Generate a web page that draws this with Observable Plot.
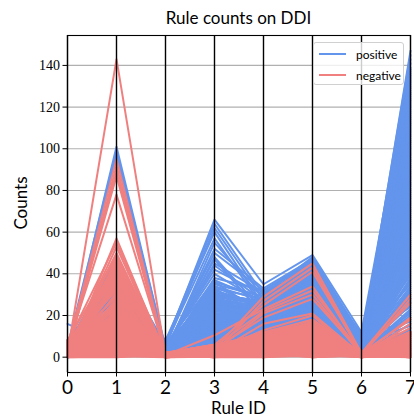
<!DOCTYPE html>
<html>
<head>
<meta charset="utf-8">
<script src="https://cdn.jsdelivr.net/npm/d3@7"></script>
<script src="https://cdn.jsdelivr.net/npm/@observablehq/plot@0.6"></script>
<style>
  body { margin: 0; background: #fff; }
  #wrap { position: relative; width: 414px; height: 418px; overflow: hidden; background: #fff; }
  #wrap svg { position: absolute; left: 0; top: 0; overflow: visible; }
  .lbl { position: absolute; font-family: Lato, sans-serif; color: #000; white-space: nowrap; }
  #legend { position: absolute; left: 313px; top: 42px; width: 91px; height: 43px; box-sizing: border-box;
    border: 1px solid #d0d0d0; border-radius: 3px; background: rgba(255,255,255,0.8);
    font-family: Lato, sans-serif; font-size: 12px; }
  .lg-row { position: absolute; left: 5px; height: 14px; display: flex; align-items: center; }
  .lg-line { width: 27px; height: 0; border-top: 2px solid; margin-right: 10px; }
</style>
</head>
<body>
<div id="wrap"></div>
<script>
// Rule IDs (x axis) and y tick values
const ruleIds = [0, 1, 2, 3, 4, 5, 6, 7];
const yTicks = [0, 20, 40, 60, 80, 100, 120, 140];
const seriesNames = ["positive", "negative"];

// Each row: counts for rules 0..7 (positive = blue lines)
const positiveCounts = [
  [3, 101, 4, 20, 18, 30, 5, 147],
  [5, 99, 3, 12, 22, 36, 7, 145],
  [2, 97, 5, 26, 15, 28, 4, 141],
  [6, 47, 6, 66, 35, 49, 12, 138],
  [4, 40, 7, 64, 30, 48, 10, 134],
  [1, 38, 5, 62, 28, 47, 9, 130],
  [8, 36, 8, 60, 25, 44, 11, 126],
  [16, 5, 6, 57, 24, 42, 8, 122],
  [7, 9, 3, 48, 22, 40, 6, 118],
  [3, 14, 4, 47, 20, 38, 3, 114],
  [0, 20, 2, 38, 32, 46, 10, 110],
  [5, 25, 6, 37, 27, 43, 7, 106],
  [2, 30, 3, 36, 21, 36, 5, 102],
  [4, 33, 4, 33, 19, 33, 4, 98],
  [6, 28, 5, 30, 17, 31, 8, 94],
  [1, 18, 2, 29, 16, 30, 3, 90],
  [3, 22, 7, 26, 23, 35, 9, 86],
  [5, 12, 3, 23, 14, 27, 6, 82],
  [2, 16, 4, 22, 26, 41, 11, 78],
  [7, 8, 6, 20, 18, 29, 5, 75],
  [0, 26, 2, 18, 13, 25, 2, 72],
  [4, 11, 5, 17, 20, 34, 7, 69],
  [3, 6, 3, 16, 12, 22, 4, 66],
  [6, 19, 4, 13, 15, 24, 8, 63],
  [1, 24, 2, 12, 11, 21, 3, 60],
  [5, 31, 6, 11, 24, 37, 10, 57],
  [2, 15, 3, 10, 17, 26, 6, 54],
  [8, 10, 5, 9, 21, 32, 5, 51],
  [4, 35, 4, 8, 14, 23, 4, 48],
  [0, 7, 2, 7, 10, 19, 3, 45],
  [3, 21, 3, 6, 19, 28, 7, 42],
  [6, 17, 5, 14, 16, 33, 9, 39],
  [2, 27, 4, 19, 22, 39, 6, 36],
  [5, 13, 3, 24, 13, 20, 2, 33],
  [1, 23, 2, 28, 18, 31, 5, 30],
  [7, 29, 6, 32, 25, 45, 8, 27],
  [4, 32, 4, 35, 29, 42, 10, 24],
  [3, 4, 3, 21, 12, 17, 4, 21],
  [0, 9, 2, 15, 11, 15, 3, 18],
  [6, 39, 5, 40, 26, 40, 7, 15],
  [2, 42, 4, 45, 31, 46, 9, 12],
  [5, 44, 3, 52, 33, 47, 6, 9],
  [1, 34, 2, 55, 28, 44, 5, 6],
  [3, 37, 5, 27, 20, 35, 4, 3],
  [4, 41, 4, 34, 23, 38, 8, 0],
  [5, 23, 4, 31, 19, 34, 6, 112],
  [3, 17, 3, 9, 15, 25, 4, 100],
  [6, 28, 5, 14, 21, 36, 7, 88],
  [1, 8, 2, 20, 13, 22, 3, 80],
  [4, 15, 6, 11, 17, 29, 8, 70],
  [2, 30, 4, 16, 22, 37, 5, 61],
  [7, 19, 3, 23, 18, 30, 6, 53],
  [3, 25, 5, 8, 12, 19, 2, 44],
  [5, 33, 4, 18, 24, 39, 9, 35],
  [0, 11, 2, 12, 14, 23, 4, 26],
  [4, 36, 6, 30, 27, 41, 11, 17],
  [2, 21, 3, 7, 15, 26, 5, 8],
  [6, 14, 5, 10, 19, 31, 7, 4],
  [2, 6, 2, 5, 11, 16, 2, 143],
  [4, 12, 3, 9, 14, 20, 1, 139],
  [1, 3, 2, 4, 12, 18, 3, 136],
  [5, 9, 4, 12, 16, 22, 2, 132],
  [3, 15, 2, 8, 13, 19, 1, 128],
  [0, 4, 3, 15, 18, 25, 3, 124],
  [6, 10, 5, 18, 20, 28, 2, 120],
  [2, 7, 2, 6, 12, 17, 1, 116],
  [4, 13, 4, 22, 21, 32, 3, 108],
  [1, 5, 3, 10, 15, 24, 2, 104],
  [3, 16, 2, 25, 23, 34, 1, 96],
  [5, 2, 4, 14, 17, 26, 3, 92],
  [0, 8, 3, 28, 24, 38, 2, 84],
  [7, 11, 5, 17, 19, 29, 1, 77],
  [2, 14, 2, 21, 22, 33, 3, 73],
  [4, 3, 3, 7, 13, 21, 2, 67],
  [1, 9, 4, 31, 26, 40, 1, 64],
  [6, 6, 2, 13, 16, 23, 3, 58],
  [3, 12, 3, 19, 20, 31, 2, 55],
  [5, 4, 5, 24, 22, 35, 1, 49],
  [0, 10, 2, 11, 14, 21, 3, 46],
  [2, 7, 3, 16, 18, 27, 2, 40],
  [4, 13, 4, 27, 25, 37, 1, 37],
  [1, 5, 2, 9, 12, 18, 3, 31],
  [6, 2, 3, 20, 19, 30, 2, 28],
  [3, 8, 4, 13, 15, 22, 1, 22],
  [5, 11, 2, 26, 23, 36, 3, 19],
  [0, 6, 3, 6, 11, 16, 2, 13],
  [2, 14, 5, 18, 17, 28, 1, 10],
  [4, 3, 2, 10, 13, 20, 3, 5],
  [1, 9, 3, 23, 21, 33, 2, 1],
  [3, 7, 4, 8, 14, 24, 1, 127],
  [5, 12, 2, 15, 18, 29, 2, 115],
  [0, 4, 3, 29, 27, 42, 3, 103],
  [2, 10, 5, 12, 16, 25, 1, 91],
  [6, 15, 2, 20, 21, 34, 2, 79],
  [4, 6, 3, 33, 28, 43, 3, 65],
  [1, 11, 4, 9, 13, 21, 1, 50],
  [3, 2, 2, 17, 19, 30, 2, 38],
  [5, 8, 3, 24, 24, 39, 3, 25],
  [0, 13, 4, 5, 12, 17, 1, 11],
  [2, 5, 2, 14, 17, 27, 2, 2],
  [7, 10, 3, 36, 29, 44, 4, 97],
  [3, 3, 5, 42, 30, 45, 5, 85],
  [1, 16, 4, 50, 32, 47, 6, 59],
  [4, 7, 3, 44, 27, 43, 4, 34],
  [2, 4, 3, 6, 12, 18, 2, 7],
  [4, 10, 2, 11, 15, 22, 1, 14],
  [1, 7, 4, 9, 13, 20, 2, 16],
  [5, 13, 3, 14, 17, 25, 3, 20],
  [3, 5, 2, 18, 19, 28, 2, 23],
  [0, 9, 5, 12, 14, 21, 1, 29],
  [6, 12, 3, 21, 20, 31, 2, 32],
  [2, 3, 4, 16, 16, 24, 3, 41],
  [4, 8, 2, 25, 22, 34, 2, 43],
  [1, 14, 3, 8, 12, 19, 1, 47],
  [5, 6, 5, 19, 18, 29, 2, 52],
  [3, 11, 2, 27, 24, 36, 3, 56],
  [0, 4, 4, 13, 15, 23, 2, 62],
  [6, 15, 3, 22, 21, 33, 1, 68],
  [2, 7, 2, 10, 13, 20, 2, 71],
  [4, 2, 5, 30, 25, 38, 3, 74],
  [1, 10, 3, 15, 16, 26, 2, 76],
  [5, 13, 4, 24, 22, 35, 1, 81],
  [3, 5, 2, 7, 11, 17, 2, 83],
  [0, 9, 3, 17, 18, 28, 3, 87],
  [6, 12, 4, 28, 23, 37, 2, 89],
  [2, 3, 2, 11, 14, 22, 1, 93],
  [4, 8, 5, 20, 19, 30, 2, 95],
  [1, 14, 3, 34, 27, 41, 3, 99],
  [5, 6, 2, 13, 15, 24, 2, 101],
  [3, 11, 4, 23, 21, 32, 1, 105],
  [0, 4, 3, 9, 12, 18, 2, 107],
  [6, 15, 2, 18, 17, 27, 3, 109],
  [2, 7, 5, 26, 23, 36, 2, 111],
  [4, 2, 3, 14, 16, 25, 1, 113],
  [1, 10, 4, 31, 26, 39, 2, 117],
  [5, 13, 2, 12, 14, 21, 3, 119],
  [3, 5, 3, 21, 20, 31, 2, 121],
  [0, 9, 4, 16, 17, 26, 1, 123],
  [6, 12, 2, 8, 13, 19, 2, 125],
  [2, 3, 5, 24, 22, 34, 3, 129],
  [4, 8, 3, 15, 16, 24, 2, 131],
  [1, 14, 2, 19, 19, 29, 1, 133],
  [5, 6, 4, 10, 14, 22, 2, 135],
  [3, 11, 3, 29, 25, 37, 3, 137]
];

// Each row: counts for rules 0..7 (negative = red lines)
const negativeCounts = [
  [2, 143, 1, 3, 12, 18, 1, 10],
  [4, 95, 2, 4, 29, 45, 2, 30],
  [1, 92, 0, 2, 27, 43, 1, 28],
  [6, 89, 2, 6, 25, 41, 2, 26],
  [3, 87, 1, 10.5, 23, 34, 1, 19],
  [5, 78, 2, 5, 22, 32, 2, 18],
  [0, 57, 1, 3, 21, 30, 1, 16],
  [7, 55, 2, 4, 19, 28, 2, 14],
  [2, 53, 1, 2, 16, 21, 1, 12],
  [4, 50, 0, 3, 13, 20, 0, 11],
  [8, 48, 2, 6, 11, 18, 2, 10],
  [1, 46, 1, 2, 10, 17, 1, 9],
  [3, 44, 2, 4, 9, 16, 2, 8],
  [5, 42, 1, 5, 8, 15, 1, 7],
  [6, 40, 2, 3, 7, 14, 2, 6],
  [2, 38, 0, 1, 6, 13, 0, 5],
  [0, 36, 1, 2, 5, 12, 1, 4],
  [4, 34, 2, 4, 4, 11, 2, 3],
  [7, 32, 1, 3, 3, 10, 1, 2],
  [3, 30, 2, 5, 2, 9, 2, 1],
  [1, 28, 1, 2, 1, 8, 1, 0],
  [5, 26, 0, 3, 0, 7, 0, 12],
  [6, 24, 2, 4, 12, 6, 2, 11],
  [2, 22, 1, 1, 11, 5, 1, 10],
  [8, 20, 2, 6, 10, 4, 2, 9],
  [0, 18, 1, 2, 9, 3, 1, 8],
  [4, 16, 0, 3, 8, 2, 0, 7],
  [3, 14, 2, 5, 7, 1, 2, 6],
  [5, 12, 1, 4, 6, 0, 1, 5],
  [1, 10, 2, 2, 5, 16, 2, 4],
  [7, 8, 1, 3, 4, 15, 1, 3],
  [2, 6, 0, 1, 3, 14, 0, 2],
  [6, 4, 2, 4, 2, 13, 2, 1],
  [4, 2, 1, 2, 1, 12, 1, 0],
  [0, 0, 2, 0, 0, 11, 2, 12],
  [3, 1, 1, 3, 12, 10, 1, 6],
  [5, 3, 0, 2, 10, 9, 0, 3],
  [1, 5, 2, 5, 8, 8, 2, 9],
  [7, 7, 1, 1, 6, 7, 1, 0],
  [2, 9, 2, 4, 4, 6, 2, 11],
  [4, 11, 1, 2, 2, 5, 1, 2],
  [6, 13, 0, 6, 0, 4, 0, 8],
  [0, 15, 2, 3, 11, 3, 2, 5],
  [3, 17, 1, 0, 9, 2, 1, 10],
  [8, 19, 2, 2, 7, 1, 2, 1],
  [1, 21, 1, 4, 5, 0, 1, 7],
  [5, 23, 0, 1, 3, 14, 0, 4],
  [2, 25, 2, 3, 1, 12, 2, 12],
  [4, 27, 1, 5, 12, 10, 1, 0],
  [6, 29, 2, 2, 10, 8, 2, 6],
  [0, 31, 1, 0, 8, 6, 1, 3],
  [3, 33, 0, 4, 6, 4, 0, 9],
  [7, 35, 2, 1, 4, 2, 2, 1],
  [1, 37, 1, 3, 2, 0, 1, 11],
  [5, 39, 2, 6, 0, 16, 2, 5],
  [2, 41, 1, 2, 11, 14, 1, 2],
  [4, 43, 0, 4, 9, 12, 0, 8],
  [6, 45, 2, 1, 7, 10, 2, 4],
  [0, 47, 1, 3, 5, 8, 1, 10],
  [3, 49, 2, 5, 3, 6, 2, 0],
  [0, 2, 0, 1, 3, 5, 0, 2],
  [1, 4, 1, 2, 6, 9, 1, 5],
  [2, 6, 2, 3, 9, 13, 2, 8],
  [3, 8, 0, 4, 11, 16, 0, 11],
  [4, 10, 1, 0, 1, 2, 1, 1],
  [5, 12, 2, 1, 4, 6, 2, 4],
  [6, 14, 0, 2, 7, 10, 0, 7],
  [7, 16, 1, 3, 10, 14, 1, 10],
  [8, 18, 2, 4, 0, 1, 2, 12],
  [0.5, 20, 0.5, 5, 2, 4, 0.5, 0.5],
  [1.5, 22, 1.5, 0.5, 5, 8, 1.5, 3],
  [2.5, 24, 2.5, 1.5, 8, 12, 2.5, 6],
  [3.5, 1, 0.5, 2.5, 10.5, 15, 0.5, 9],
  [4.5, 3, 1.5, 3.5, 0.5, 0.5, 1.5, 11.5],
  [5.5, 5, 2, 4.5, 3, 3, 2, 1.5],
  [6.5, 7, 0, 0.5, 6, 7, 0, 4.5],
  [7.5, 9, 1, 1.5, 9, 11, 1, 7.5],
  [0, 11, 2, 2.5, 11, 15.5, 2, 10.5],
  [1, 13, 0.5, 3.5, 1, 2.5, 0.5, 0],
  [2, 15, 1.5, 4.5, 4, 5.5, 1.5, 2.5],
  [3, 17, 2.5, 0, 7, 9.5, 2.5, 5.5],
  [4, 19, 0, 1, 9.5, 13.5, 0, 8.5],
  [5, 21, 1, 2, 0, 16.5, 1, 11],
  [6, 23, 2, 3, 2.5, 0, 2, 2],
  [7, 25, 0.5, 4, 5.5, 4.5, 0.5, 5],
  [8, 0, 1.5, 5, 8.5, 8.5, 1.5, 8],
  [0.5, 2, 2.5, 0.5, 10, 12.5, 2.5, 11.5],
  [1.5, 4, 0, 1.5, 0.5, 1.5, 0, 1],
  [2.5, 6, 1, 2.5, 3.5, 6.5, 1, 4],
  [3.5, 8, 2, 3.5, 6.5, 10.5, 2, 7],
  [4.5, 10, 0.5, 4.5, 9, 14.5, 0.5, 10],
  [5.5, 12, 1.5, 0, 11.5, 3.5, 1.5, 12],
  [6.5, 14, 2.5, 1, 1.5, 7.5, 2.5, 0.5],
  [7.5, 16, 0, 2, 4.5, 11.5, 0, 3.5],
  [0, 18, 1, 3, 7.5, 15, 1, 6.5],
  [1, 20, 2, 4, 10, 0.5, 2, 9.5],
  [2, 22, 0.5, 5.5, 2, 5, 0.5, 12],
  [3, 1.5, 1.5, 0.5, 5, 9, 1.5, 1],
  [4, 3.5, 2.5, 1.5, 8, 13, 2.5, 3],
  [5, 5.5, 0, 2.5, 11, 16, 0, 6],
  [6, 7.5, 1, 3.5, 0, 2, 1, 9],
  [7, 9.5, 2, 4.5, 3, 6, 2, 11],
  [0, 0.5, 0, 0.2, 0.3, 0.8, 0.1, 0.2],
  [0.4, 1.2, 0.2, 0.5, 0.9, 1.4, 0.3, 0.9],
  [0.8, 2.1, 0.1, 0.4, 1.4, 2.5, 0.2, 1.6],
  [1.1, 2.9, 0.4, 0.8, 1.8, 2.9, 0.4, 1.9],
  [1.6, 3.8, 0.3, 1.1, 2.4, 3.7, 0.6, 2.6],
  [1.9, 4.6, 0.6, 0.9, 2.7, 4.5, 0.5, 3.1],
  [2.3, 5.2, 0.5, 1.4, 3.3, 4.9, 0.8, 3.4],
  [2.6, 6.4, 0.8, 1.3, 3.6, 5.8, 0.7, 4.1],
  [3.1, 7.1, 0.7, 1.8, 4.2, 6.3, 1.0, 4.4],
  [3.4, 7.9, 1.0, 1.6, 4.6, 7.1, 0.9, 5.2],
  [3.8, 8.8, 0.9, 2.1, 5.1, 7.6, 1.2, 5.5],
  [4.2, 9.6, 1.2, 2.0, 5.4, 8.4, 1.1, 6.3],
  [4.5, 10.5, 1.1, 2.4, 6.1, 8.8, 1.4, 6.6],
  [4.9, 11.3, 1.4, 2.3, 6.4, 9.7, 1.3, 7.2],
  [5.3, 12.2, 1.3, 2.8, 7.0, 10.1, 1.6, 7.7],
  [5.6, 13.1, 1.6, 2.7, 7.3, 11.0, 1.5, 8.1],
  [6.0, 13.8, 1.5, 3.1, 7.9, 11.4, 1.8, 8.8],
  [6.3, 14.7, 1.8, 3.0, 8.2, 12.3, 1.7, 9.1],
  [6.7, 15.6, 1.7, 3.5, 8.8, 12.8, 2.0, 9.8],
  [7.1, 16.4, 2.0, 3.4, 9.1, 13.6, 1.9, 10.2],
  [7.4, 17.3, 1.9, 3.9, 9.7, 14.1, 2.2, 10.7],
  [7.8, 18.1, 2.2, 3.8, 10.0, 14.9, 2.1, 11.3],
  [8.1, 19.0, 2.1, 4.3, 10.6, 15.4, 2.4, 11.6],
  [8.4, 20.2, 2.4, 4.2, 11.1, 16.2, 2.3, 12.2]
];

const colors = { positive: "#6495ED", negative: "#F08080" };

function tidy(rows, group) {
  const out = [];
  rows.forEach((r, i) => r.forEach((v, j) => out.push({ id: group + i, group, rule: ruleIds[j], count: v })));
  return out;
}
const posData = tidy(positiveCounts, "positive");
const negData = tidy(negativeCounts, "negative");

const chart = Plot.plot({
  width: 414,
  height: 418,
  marginLeft: 67,
  marginRight: 4,
  marginTop: 35,
  marginBottom: 46,
  x: { domain: [0, 7] },
  y: { domain: [-7.35, 154.35] },
  marks: [
    Plot.gridY(yTicks, { stroke: "#b0b0b0", strokeOpacity: 1, strokeWidth: 1.1 }),
    Plot.line(posData, { x: "rule", y: "count", z: "id", stroke: colors.positive, strokeWidth: 2 }),
    Plot.line(negData, { x: "rule", y: "count", z: "id", stroke: colors.negative, strokeWidth: 2 }),
    Plot.ruleX(ruleIds, { stroke: "black", strokeWidth: 1.4 }),
    Plot.frame({ stroke: "black", strokeWidth: 1.1 }),
    Plot.axisY(yTicks, { tickSize: 4.5, tickPadding: 3, fontSize: 14, label: null, tickFormat: d => String(d) }),
    Plot.axisX(ruleIds, { tickSize: 4.5, tickPadding: 3, fontSize: 19, label: null, tickFormat: d => String(d) })
  ]
});

const wrap = document.getElementById("wrap");
wrap.appendChild(chart);

// Tick label fonts: serif for y ticks, sans for x ticks
chart.querySelectorAll("g[aria-label]").forEach(g => {
  const lab = g.getAttribute("aria-label");
  if (lab === "y-axis tick label") {
    g.setAttribute("font-family", "Liberation Serif");
    g.style.fontFamily = "'Liberation Serif', serif";
    g.querySelectorAll("text").forEach(t => t.style.fontFamily = "'Liberation Serif', serif");
  } else if (lab === "x-axis tick label") {
    g.setAttribute("font-family", "Lato");
    g.style.fontFamily = "Lato, sans-serif";
    g.querySelectorAll("text").forEach(t => t.style.fontFamily = "Lato, sans-serif");
  }
});

function addLabel(text, css) {
  const d = document.createElement("div");
  d.className = "lbl";
  d.textContent = text;
  Object.assign(d.style, css);
  wrap.appendChild(d);
  return d;
}
addLabel("Rule counts on DDI", { left: "238.5px", top: "7px", fontSize: "17px", transform: "translateX(-50%)" });
addLabel("Rule ID", { left: "238.5px", top: "397px", fontSize: "17px", transform: "translateX(-50%)" });
addLabel("Counts", { left: "20px", top: "203px", fontSize: "17px", transform: "translate(-50%, -50%) rotate(-90deg)" });

const legend = document.createElement("div");
legend.id = "legend";
seriesNames.forEach((name, i) => {
  const row = document.createElement("div");
  row.className = "lg-row";
  row.style.top = (4 + i * 21) + "px";
  const ln = document.createElement("div");
  ln.className = "lg-line";
  ln.style.borderTopColor = colors[name];
  const tx = document.createElement("span");
  tx.textContent = name;
  row.appendChild(ln);
  row.appendChild(tx);
  legend.appendChild(row);
});
wrap.appendChild(legend);
</script>
</body>
</html>
